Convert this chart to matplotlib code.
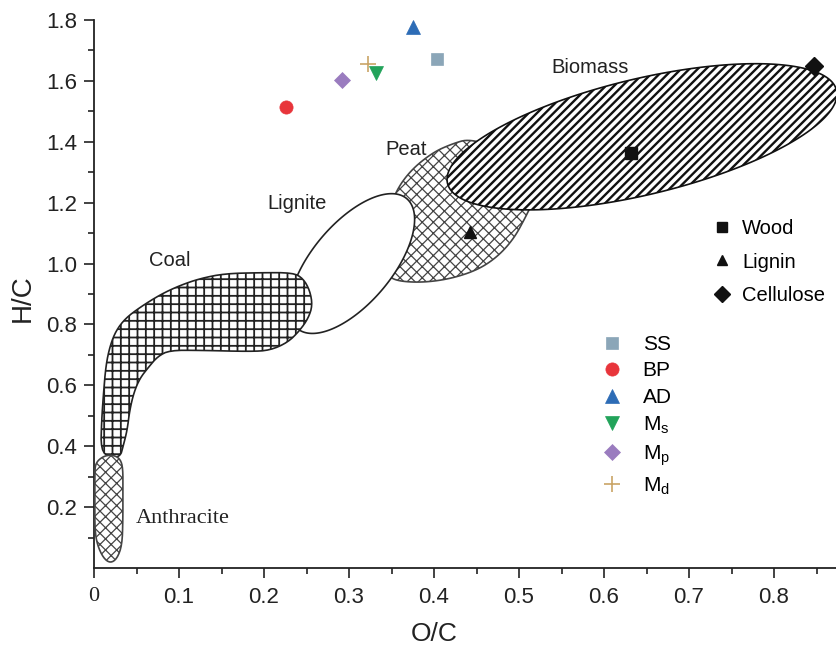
import numpy as np
import matplotlib
matplotlib.use('Agg')
import matplotlib.pyplot as plt
from matplotlib.patches import Polygon

plt.rcParams['font.family'] = ['Liberation Sans', 'DejaVu Sans']
plt.rcParams['mathtext.default'] = 'regular'

# --- puntos de las muestras (O/C, H/C) ---
sample_names = ['SS', 'BP', 'AD', 'M$_s$', 'M$_p$', 'M$_d$']
sample_oc = [0.404, 0.226, 0.375, 0.332, 0.292, 0.322]
sample_hc = [1.672, 1.515, 1.777, 1.627, 1.602, 1.657]
sample_markers = ['s', 'o', '^', 'v', 'D', '+']
sample_colors = ['#8ba6b8', '#e8353b', '#2d6cb6', '#22a35a', '#9a7cbf', '#c9a466']
sample_sizes = [8, 9.5, 10, 10, 8, 11]

# --- componentes de referencia ---
ref_names = ['Wood', 'Lignin', 'Cellulose']
ref_oc = [0.632, 0.442, 0.847]
ref_hc = [1.364, 1.103, 1.649]
ref_markers = ['s', '^', 'D']

# --- regiones (contornos en O/C, H/C) ---
coal_oc = [0.008, 0.009, 0.011, 0.014, 0.019, 0.026, 0.037, 0.054, 0.078, 0.101, 0.125,
           0.154, 0.195, 0.234, 0.246, 0.254, 0.257, 0.252, 0.242, 0.228, 0.207, 0.184,
           0.125, 0.089, 0.075, 0.064, 0.054, 0.047, 0.042, 0.039, 0.034, 0.031, 0.019]
coal_hc = [0.387, 0.485, 0.567, 0.666, 0.731, 0.780, 0.820, 0.856, 0.898, 0.928, 0.951,
           0.967, 0.970, 0.970, 0.951, 0.911, 0.862, 0.820, 0.780, 0.741, 0.715, 0.711,
           0.715, 0.715, 0.695, 0.659, 0.623, 0.577, 0.518, 0.452, 0.397, 0.367, 0.361]

anthracite_oc = [0.001, 0.001, 0.001, 0.004, 0.011, 0.019, 0.027, 0.033, 0.034, 0.034,
                 0.034, 0.031, 0.024, 0.014, 0.006, 0.002]
anthracite_hc = [0.321, 0.223, 0.125, 0.075, 0.033, 0.016, 0.030, 0.075, 0.157, 0.256,
                 0.328, 0.357, 0.370, 0.370, 0.357, 0.341]

peat_oc = [0.442, 0.478, 0.511, 0.518, 0.508, 0.494, 0.475, 0.452, 0.421, 0.389, 0.360,
           0.346, 0.339, 0.341, 0.354, 0.372, 0.398, 0.421]
peat_hc = [1.410, 1.377, 1.305, 1.213, 1.154, 1.082, 1.023, 0.980, 0.951, 0.938, 0.941,
           0.957, 1.026, 1.125, 1.233, 1.305, 1.364, 1.393]

# elipses: centro y semiejes (vectores en O/C, H/C)
lignite_center = (0.3035, 1.000)
lignite_axes = ((0.0643, 0.2135), (0.0360, -0.0843))
biomass_center = (0.6447, 1.4164)
biomass_axes = ((0.2288, 0.1531), (0.0159, -0.1849))

region_labels = ['Coal', 'Lignite', 'Peat', 'Biomass']
label_oc = [0.089, 0.239, 0.367, 0.584]
label_hc = [1.010, 1.197, 1.374, 1.643]


def suavizar(x, y, it=3):
    p = np.column_stack([x, y])
    for _ in range(it):
        q = np.roll(p, -1, axis=0)
        n = np.empty((2 * len(p), 2))
        n[0::2] = 0.75 * p + 0.25 * q
        n[1::2] = 0.25 * p + 0.75 * q
        p = n
    return p


def elipse(centro, ejes, n=300):
    t = np.linspace(0, 2 * np.pi, n)
    (a1, a2), (b1, b2) = ejes
    return np.column_stack([centro[0] + a1 * np.cos(t) + b1 * np.sin(t),
                            centro[1] + a2 * np.cos(t) + b2 * np.sin(t)])


def region(ax, pts, hatch, hlw, ec, z):
    with plt.rc_context({'hatch.linewidth': hlw}):
        p = Polygon(pts, closed=True, facecolor='white', edgecolor=ec,
                    hatch=hatch, linewidth=1.2, zorder=z)
    ax.add_patch(p)
    return p


fig = plt.figure(figsize=(8.37, 6.48), dpi=100)
ax = fig.add_axes([94 / 837, 80 / 648, 742 / 837, 548 / 648])

region(ax, suavizar(peat_oc, peat_hc), 'xxx', 0.9, '#444444', 1)
region(ax, elipse(lignite_center, lignite_axes), '', 1, '#222222', 2)
region(ax, suavizar(coal_oc, coal_hc, 2), '++', 1.3, '#222222', 3)
region(ax, suavizar(anthracite_oc, anthracite_hc, 2), 'xxx', 0.9, '#444444', 4)
region(ax, elipse(biomass_center, biomass_axes), '////', 1.7, '#111111', 3)

for name, x, y, m in zip(ref_names, ref_oc, ref_hc, ref_markers):
    ax.plot(x, y, marker=m, color='#111111', markersize=9, linestyle='none',
            label=name, zorder=6)

sample_handles = []
for name, x, y, m, c, s in zip(sample_names, sample_oc, sample_hc,
                               sample_markers, sample_colors, sample_sizes):
    h, = ax.plot(x, y, marker=m, color=c, markersize=s, linestyle='none',
                 markeredgewidth=1.2 if m == '+' else 0.5, label=name, zorder=6)
    sample_handles.append(h)

for t, x, y in zip(region_labels, label_oc, label_hc):
    ax.text(x, y, t, fontsize=14.5, ha='center', va='center', color='#222222', zorder=7)
ax.text(0.1047, 0.161, 'Anthracite', fontsize=16, ha='center', va='center',
        family='Liberation Serif', color='#222222', zorder=7)

ref_handles = ax.get_lines()[:3]
leg1 = ax.legend(handles=ref_handles, loc='upper left', bbox_to_anchor=(712 / 837, 1 - 219 / 648),
                 bbox_transform=fig.transFigure, frameon=False, fontsize=14.5, borderpad=0,
                 borderaxespad=0, handlelength=1.0, handletextpad=0.5, labelspacing=0.72,
                 markerscale=0.85)
ax.add_artist(leg1)
ax.legend(handles=sample_handles, loc='upper left', bbox_to_anchor=(602 / 837, 1 - 335 / 648),
          bbox_transform=fig.transFigure, frameon=False, fontsize=15, borderpad=0,
          borderaxespad=0, handlelength=1.0, handletextpad=0.95, labelspacing=0.36)

# ejes
ax.set_xlim(0, 742 / 850)
ax.set_ylim(0, 1.8)
ax.set_xticks(np.arange(0, 0.81, 0.1))
ax.set_xticklabels(['0', '0.1', '0.2', '0.3', '0.4', '0.5', '0.6', '0.7', '0.8'])
ax.set_xticks(np.arange(0.05, 0.86, 0.1), minor=True)
ax.set_yticks(np.arange(0.2, 1.81, 0.2))
ax.set_yticklabels(['0.2', '0.4', '0.6', '0.8', '1.0', '1.2', '1.4', '1.6', '1.8'])
ax.set_yticks(np.arange(0.1, 1.8, 0.2), minor=True)
cero = ax.xaxis.get_ticklabels()[0]
cero.set_family('Liberation Serif')
cero.set_fontsize(18)

for s in ['top', 'right']:
    ax.spines[s].set_visible(False)
for s in ['left', 'bottom']:
    ax.spines[s].set_color('#222222')
    ax.spines[s].set_linewidth(1.3)
ax.tick_params(which='major', direction='out', length=7, width=1.2, color='#222222',
               labelsize=16, labelcolor='#222222')
ax.tick_params(which='minor', direction='out', length=4, width=1.2, color='#222222')
ax.tick_params(axis='x', which='major', pad=7)
ax.tick_params(axis='y', which='major', pad=5)

fig.text(434 / 837, 1 - 634 / 648, 'O/C', fontsize=19, ha='center', va='center', color='#222222')
fig.text(23 / 837, 1 - 298 / 648, 'H/C', fontsize=20, ha='center', va='center',
         rotation=90, color='#222222')

fig.savefig('out.png', dpi=100)
